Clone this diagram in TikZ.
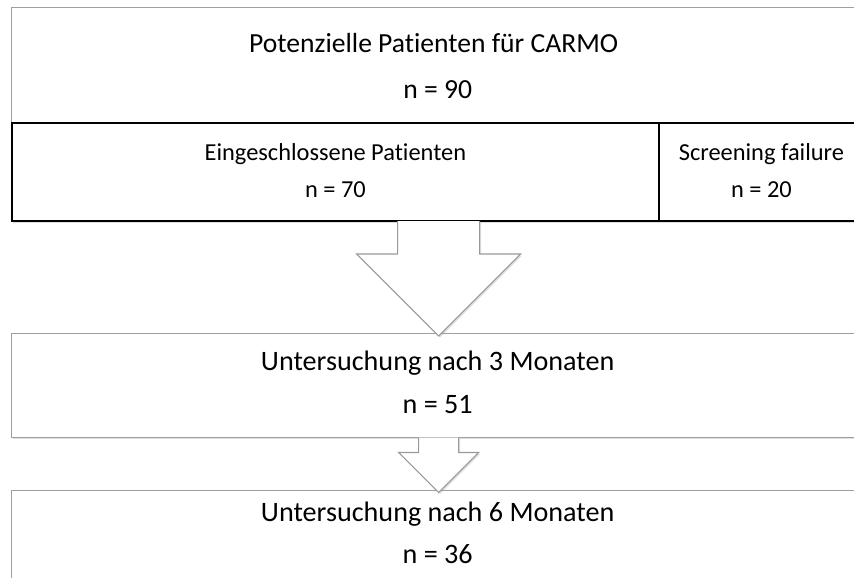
\documentclass[tikz,border=0pt]{standalone}
\usepackage{fontspec}
\setmainfont{Carlito}[Ligatures=NoCommon]
\usetikzlibrary{positioning, calc, shadows}

\begin{document}
\begin{tikzpicture}[x=0.75pt, y=-0.75pt,
    schatten/.style={drop shadow={opacity=0.25, shadow xshift=1pt, shadow yshift=-1.2pt}},
    box/.style={draw=gray!75, line width=1pt, fill=white, schatten,
                anchor=north west, inner sep=0pt},
    zeile/.style={draw=black, line width=1.4pt, fill=white, schatten,
                  anchor=north west, inner sep=0pt, minimum height=73.5pt},
    pfeil/.style={draw=gray!80, line width=0.8pt, fill=white, schatten},
    gross/.style={font=\fontsize{20.7}{24}\selectfont, anchor=base},
    mittel/.style={font=\fontsize{21.1}{24}\selectfont, anchor=base},
    klein/.style={font=\fontsize{18.3}{21}\selectfont, anchor=base}]
  \useasboundingbox (0,0) rectangle (854,578);
  \clip (0,0) rectangle (854,578);

  % boxes
  \node[box, minimum width=639pt, minimum height=86.25pt] (potenzial) at (11,7) {};
  \node[zeile, minimum width=485.25pt] (eingeschl) at (11,122) {};
  \node[zeile, minimum width=153.75pt] (screening) at (658,122) {};
  \node[box, minimum width=639pt, minimum height=78pt] (monat3) at (11,333) {};
  \node[box, minimum width=639pt, minimum height=80pt] (monat6) at (11,490) {};

  % texts
  \node[gross] (t1) at ($(potenzial.north)+(-4,45)$) {Potenzielle Patienten für CARMO};
  \node[gross] (n1) at ($(potenzial.north)+(0,91)$) {n = 90};
  \node[klein] (t2) at ($(eingeschl.north)+(0,38)$) {Eingeschlossene Patienten};
  \node[klein] (n2) at ($(eingeschl.north)+(0,75)$) {n = 70};
  \node[klein] (t3) at ($(screening.north)+(0,38)$) {Screening failure};
  \node[klein] (n3) at ($(screening.north)+(0,75)$) {n = 20};
  \node[mittel] (t4) at ($(monat3.north)+(0,37)$) {Untersuchung nach 3 Monaten};
  \node[mittel] (n4) at ($(monat3.north)+(0,80)$) {n = 51};
  \node[mittel] (t5) at ($(monat6.north)+(0,31)$) {Untersuchung nach 6 Monaten};
  \node[mittel] (n5) at ($(monat6.north)+(0,73)$) {n = 36};

  % arrows
  \coordinate (a1) at ($(potenzial.north)+(1,214)$);
  \draw[pfeil] ($(a1)+(-41,0)$) -- ($(a1)+(-41,33)$) -- ($(a1)+(-82,33)$)
    -- ($(a1)+(0,115)$) -- ($(a1)+(82,33)$) -- ($(a1)+(41,33)$) -- ($(a1)+(41,0)$);
  \coordinate (a2) at ($(monat3.north)+(1,104.5)$);
  \draw[pfeil] ($(a2)+(-20,0)$) -- ($(a2)+(-20,15)$) -- ($(a2)+(-40,15)$)
    -- ($(a2)+(0,55)$) -- ($(a2)+(40,15)$) -- ($(a2)+(20,15)$) -- ($(a2)+(20,0)$);
\end{tikzpicture}
\end{document}
